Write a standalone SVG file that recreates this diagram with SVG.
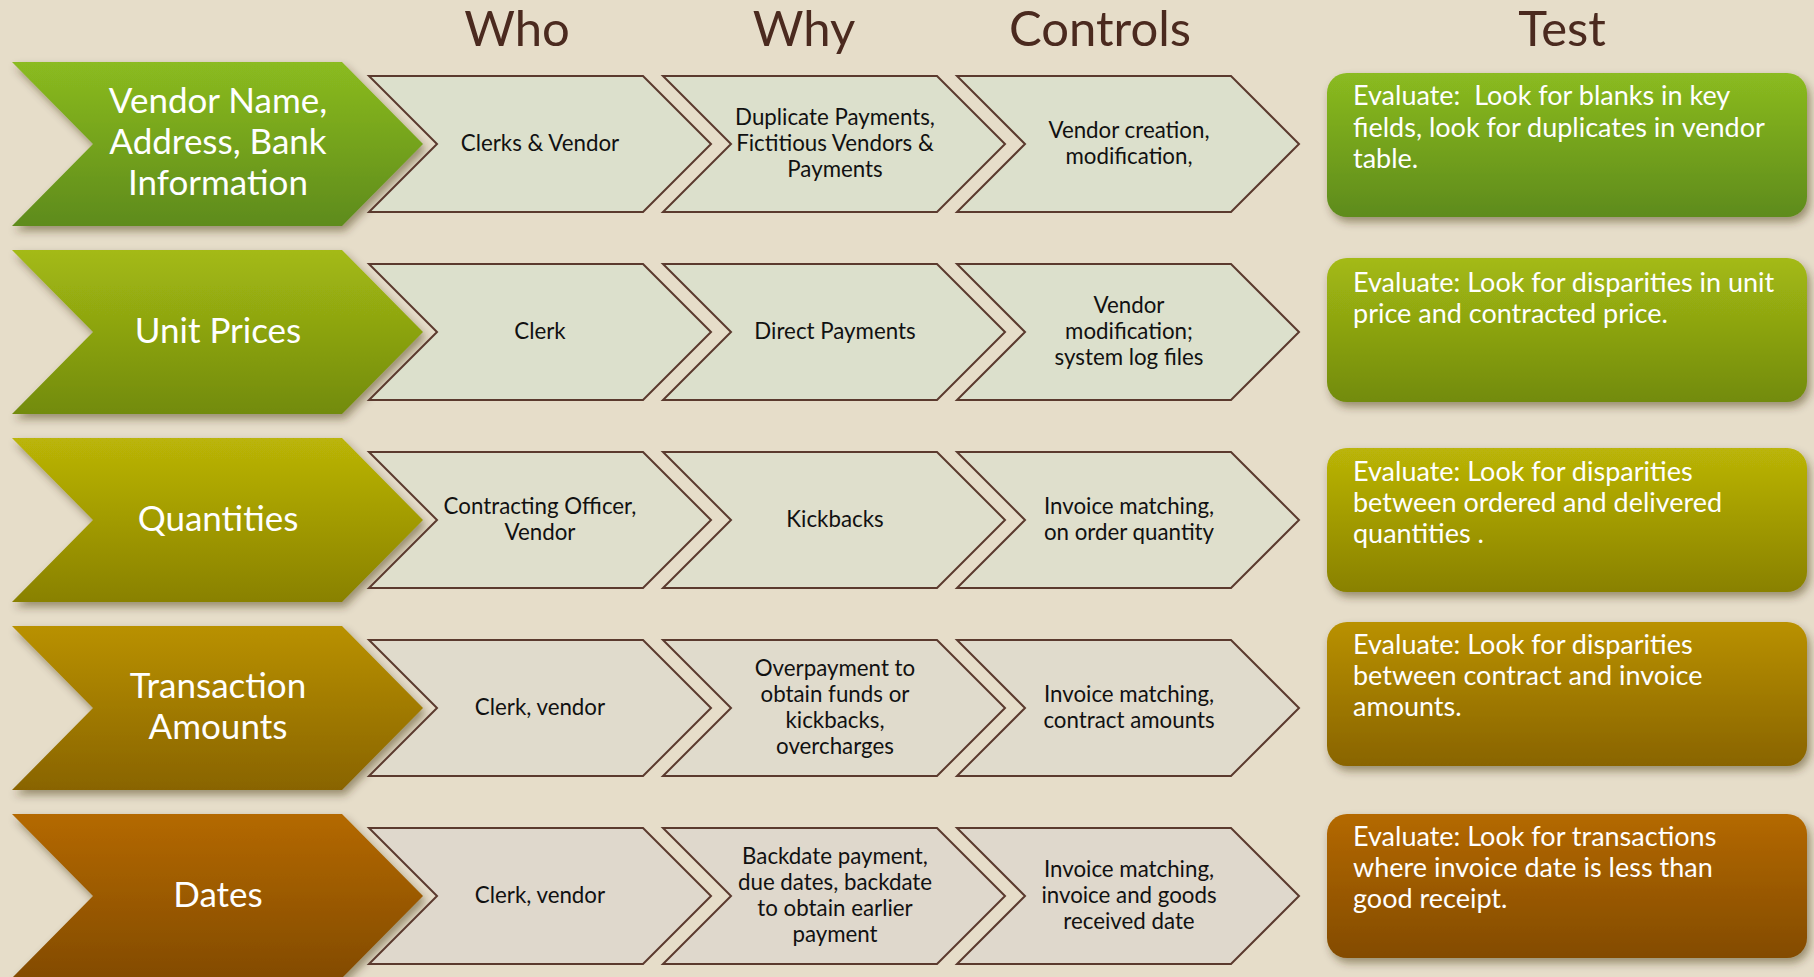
<svg xmlns="http://www.w3.org/2000/svg" width="1814" height="977" viewBox="0 0 1814 977">
<defs>
<style>
.hdr{font-family:Lato,"Open Sans",sans-serif;font-size:49px;fill:#4b2a1f;text-anchor:middle}
.big{font-family:Lato,"Open Sans",sans-serif;font-size:35px;fill:#ffffff;text-anchor:middle}
.sm{font-family:Lato,"Open Sans",sans-serif;font-size:22.3px;fill:#111111;text-anchor:middle}
.tst{font-family:Lato,"Open Sans",sans-serif;font-size:27px;fill:#ffffff}
.chev{stroke:#5b3a2e;stroke-width:2}
</style>
<filter id="sh" x="-10%" y="-10%" width="125%" height="130%">
<feDropShadow dx="3" dy="5" stdDeviation="4" flood-color="#3a2a10" flood-opacity="0.45"/>
</filter>
<linearGradient id="g1" x1="0" y1="0" x2="0" y2="1"><stop offset="0" stop-color="#8bbb20"/><stop offset="1" stop-color="#5e8b1a"/></linearGradient>
<linearGradient id="g2" x1="0" y1="0" x2="0" y2="1"><stop offset="0" stop-color="#a4ba13"/><stop offset="1" stop-color="#728b0e"/></linearGradient>
<linearGradient id="g3" x1="0" y1="0" x2="0" y2="1"><stop offset="0" stop-color="#bbb507"/><stop offset="1" stop-color="#898100"/></linearGradient>
<linearGradient id="g4" x1="0" y1="0" x2="0" y2="1"><stop offset="0" stop-color="#b99100"/><stop offset="1" stop-color="#896400"/></linearGradient>
<linearGradient id="g5" x1="0" y1="0" x2="0" y2="1"><stop offset="0" stop-color="#b46900"/><stop offset="1" stop-color="#834b00"/></linearGradient>
</defs>
<rect width="1814" height="977" fill="#e6ddc9"/>

<g id="headers">
<text class="hdr" x="517" y="46">Who</text>
<text class="hdr" x="804" y="46">Why</text>
<text class="hdr" x="1100" y="46">Controls</text>
<text class="hdr" x="1562" y="46">Test</text>
</g>

<g id="row1">
<polygon filter="url(#sh)" fill="url(#g1)" points="12,62 342,62 423,144 342,226 12,226 93,144"/>
<text class="big" x="218" y="113">Vendor Name,</text>
<text class="big" x="218" y="154">Address, Bank</text>
<text class="big" x="218" y="195">Information</text>
<polygon class="chev" fill="#dce0cc" points="369,76 643,76 711,144 643,212 369,212 437,144"/>
<text class="sm" x="540" y="151">Clerks &amp; Vendor</text>
<polygon class="chev" fill="#dce0cc" points="663,76 937,76 1005,144 937,212 663,212 731,144"/>
<text class="sm" x="835" y="125">Duplicate Payments,</text>
<text class="sm" x="835" y="151">Fictitious Vendors &amp;</text>
<text class="sm" x="835" y="177">Payments</text>
<polygon class="chev" fill="#dce0cc" points="957,76 1231,76 1299,144 1231,212 957,212 1025,144"/>
<text class="sm" x="1129" y="138">Vendor creation,</text>
<text class="sm" x="1129" y="164">modification,</text>
<rect filter="url(#sh)" fill="url(#g1)" x="1327" y="73" width="480" height="144" rx="20"/>
<text class="tst" xml:space="preserve" x="1353" y="105">Evaluate:  Look for blanks in key</text>
<text class="tst" x="1353" y="137">fields, look for duplicates in vendor</text>
<text class="tst" x="1353" y="168">table.</text>
</g>

<g id="row2">
<polygon filter="url(#sh)" fill="url(#g2)" points="12,250 342,250 423,332 342,414 12,414 93,332"/>
<text class="big" x="218" y="343">Unit Prices</text>
<polygon class="chev" fill="#dce0cc" points="369,264 643,264 711,332 643,400 369,400 437,332"/>
<text class="sm" x="540" y="339">Clerk</text>
<polygon class="chev" fill="#dce0cc" points="663,264 937,264 1005,332 937,400 663,400 731,332"/>
<text class="sm" x="835" y="339">Direct Payments</text>
<polygon class="chev" fill="#dce0cc" points="957,264 1231,264 1299,332 1231,400 957,400 1025,332"/>
<text class="sm" x="1129" y="313">Vendor</text>
<text class="sm" x="1129" y="339">modification;</text>
<text class="sm" x="1129" y="365">system log files</text>
<rect filter="url(#sh)" fill="url(#g2)" x="1327" y="258" width="480" height="144" rx="20"/>
<text class="tst" x="1353" y="292">Evaluate: Look for disparities in unit</text>
<text class="tst" x="1353" y="323">price and contracted price.</text>
</g>

<g id="row3">
<polygon filter="url(#sh)" fill="url(#g3)" points="12,438 342,438 423,520 342,602 12,602 93,520"/>
<text class="big" x="218" y="531">Quantities</text>
<polygon class="chev" fill="#dfdfcc" points="369,452 643,452 711,520 643,588 369,588 437,520"/>
<text class="sm" x="540" y="514">Contracting Officer,</text>
<text class="sm" x="540" y="540">Vendor</text>
<polygon class="chev" fill="#dfdfcc" points="663,452 937,452 1005,520 937,588 663,588 731,520"/>
<text class="sm" x="835" y="527">Kickbacks</text>
<polygon class="chev" fill="#dfdfcc" points="957,452 1231,452 1299,520 1231,588 957,588 1025,520"/>
<text class="sm" x="1129" y="514">Invoice matching,</text>
<text class="sm" x="1129" y="540">on order quantity</text>
<rect filter="url(#sh)" fill="url(#g3)" x="1327" y="448" width="480" height="144" rx="20"/>
<text class="tst" x="1353" y="481">Evaluate: Look for disparities</text>
<text class="tst" x="1353" y="512">between ordered and delivered</text>
<text class="tst" x="1353" y="543">quantities .</text>
</g>

<g id="row4">
<polygon filter="url(#sh)" fill="url(#g4)" points="12,626 342,626 423,708 342,790 12,790 93,708"/>
<text class="big" x="218" y="698">Transaction</text>
<text class="big" x="218" y="739">Amounts</text>
<polygon class="chev" fill="#e0dbcc" points="369,640 643,640 711,708 643,776 369,776 437,708"/>
<text class="sm" x="540" y="715">Clerk, vendor</text>
<polygon class="chev" fill="#e0dbcc" points="663,640 937,640 1005,708 937,776 663,776 731,708"/>
<text class="sm" x="835" y="676">Overpayment to</text>
<text class="sm" x="835" y="702">obtain funds or</text>
<text class="sm" x="835" y="728">kickbacks,</text>
<text class="sm" x="835" y="754">overcharges</text>
<polygon class="chev" fill="#e0dbcc" points="957,640 1231,640 1299,708 1231,776 957,776 1025,708"/>
<text class="sm" x="1129" y="702">Invoice matching,</text>
<text class="sm" x="1129" y="728">contract amounts</text>
<rect filter="url(#sh)" fill="url(#g4)" x="1327" y="622" width="480" height="144" rx="20"/>
<text class="tst" x="1353" y="654">Evaluate: Look for disparities</text>
<text class="tst" x="1353" y="685">between contract and invoice</text>
<text class="tst" x="1353" y="716">amounts.</text>
</g>

<g id="row5">
<polygon filter="url(#sh)" fill="url(#g5)" points="12,814 342,814 423,896 342,978 12,978 93,896"/>
<text class="big" x="218" y="907">Dates</text>
<polygon class="chev" fill="#dfd8cc" points="369,828 643,828 711,896 643,964 369,964 437,896"/>
<text class="sm" x="540" y="903">Clerk, vendor</text>
<polygon class="chev" fill="#dfd8cc" points="663,828 937,828 1005,896 937,964 663,964 731,896"/>
<text class="sm" x="835" y="864">Backdate payment,</text>
<text class="sm" x="835" y="890">due dates, backdate</text>
<text class="sm" x="835" y="916">to obtain earlier</text>
<text class="sm" x="835" y="942">payment</text>
<polygon class="chev" fill="#dfd8cc" points="957,828 1231,828 1299,896 1231,964 957,964 1025,896"/>
<text class="sm" x="1129" y="877">Invoice matching,</text>
<text class="sm" x="1129" y="903">invoice and goods</text>
<text class="sm" x="1129" y="929">received date</text>
<rect filter="url(#sh)" fill="url(#g5)" x="1327" y="814" width="480" height="144" rx="20"/>
<text class="tst" x="1353" y="846">Evaluate: Look for transactions</text>
<text class="tst" x="1353" y="877">where invoice date is less than</text>
<text class="tst" x="1353" y="908">good receipt.</text>
</g>
</svg>
